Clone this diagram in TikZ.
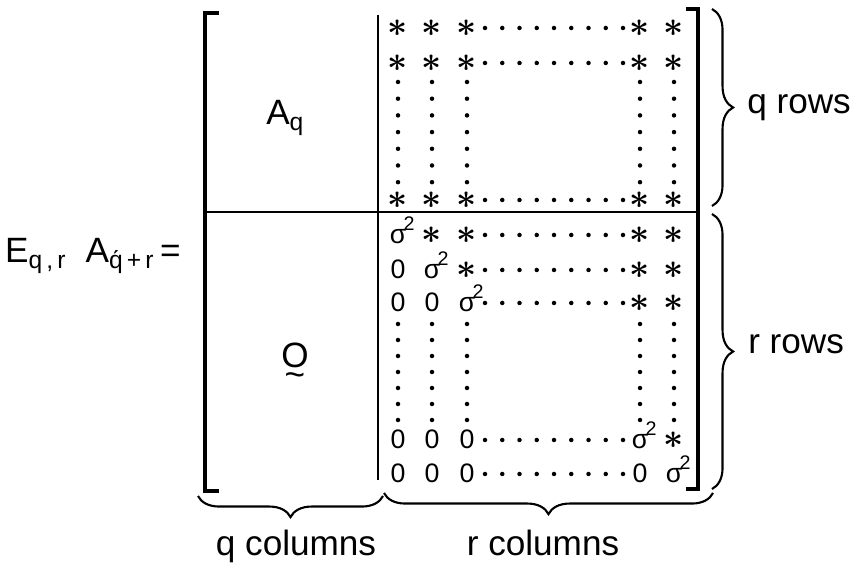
\documentclass[tikz,border=0pt]{standalone}
\usepackage{fontspec}
\setmainfont{Liberation Sans}
\usetikzlibrary{decorations.pathreplacing}

\newcommand{\st}{{\fontsize{28}{28}\selectfont\boldmath$\ast$}}
\newcommand{\sig}{σ\rlap{\kern-0.1em\raisebox{0.5em}{\fontsize{14}{14}\selectfont 2}}}

\begin{document}
\begin{tikzpicture}[x=0.025cm,y=-0.025cm]
    \tikzset{
        bigtext/.style={font=\fontsize{25}{30}\selectfont, inner sep=0},
        entry/.style={font=\fontsize{19}{22}\selectfont, inner sep=0, anchor=base},
        bracket/.style={line width=2.8pt, line join=miter},
        rule/.style={line width=1.7pt},
        curly/.style={decorate, decoration={brace, amplitude=15pt}, line width=1.5pt}
    }
    \useasboundingbox (0,0) rectangle (862,569);

    % corners of the matrix
    \coordinate (lt) at (205,13);
    \coordinate (lb) at (205,491);
    \coordinate (rt) at (698,9);
    \coordinate (rb) at (698,489);
    \coordinate (mt) at (378,15);
    \coordinate (mb) at (378,480);
    \coordinate (hl) at (205,212);
    \coordinate (hr) at (698,212);

    \draw[bracket] (lt) ++(14,0) -- (lt) -- (lb) -- ++(14,0);
    \draw[bracket] (rt) ++(-12,0) -- (rt) -- (rb) -- ++(-12,0);
    \draw[rule] (mt) -- (mb);
    \draw[rule] (hl) -- (hr);

    % entries
    \foreach \y/\ea/\eb/\ec/\ed/\ee [count=\i] in {
        28/\st/\st/\st/\st/\st,
        63/\st/\st/\st/\st/\st,
        200/\st/\st/\st/\st/\st,
        235/\sig/\st/\st/\st/\st,
        270/0/\sig/\st/\st/\st,
        303/0/0/\sig/\st/\st,
        440/0/0/0/\sig/\st,
        474/0/0/0/0/\sig}{
        \foreach \x/\e [count=\j] in {398/\ea,432/\eb,467/\ec,640/\ed,674/\ee}
            \node[entry] (e\i\j) at (\x,\y+9) {\e};
        \foreach \k in {0,...,8}
            \fill (485+17.25*\k,\y) circle[radius=1.6pt];
    }
    \foreach \x in {398,432,467,640,674}
        \foreach \k in {0,...,6} {
            \fill (\x,82+16.7*\k) circle[radius=1.6pt];
            \fill (\x,324+16*\k) circle[radius=1.6pt];
        }

    % blocks
    \node[bigtext, anchor=base west] (Aq) at (266,125) {A\textsubscript{q}};
    \node[bigtext, anchor=base] (zeroO) at (295,368) {O};
    \node[bigtext] (zeroT) at (295,380) {\textasciitilde};
    \node[bigtext, anchor=base east] (lhs) at (181,263) {E\textsubscript{q\,,\,r}\ \ A\textsubscript{\'{q}\,+\,r}\,=};

    % braces
    \coordinate (qr1) at (712,9);
    \coordinate (qr2) at (712,206);
    \coordinate (rr1) at (712,214);
    \coordinate (rr2) at (712,489);
    \coordinate (qc1) at (383,496);
    \coordinate (qc2) at (198,496);
    \coordinate (rc1) at (713,493);
    \coordinate (rc2) at (384,493);
    \draw[curly] (qr1) -- (qr2);
    \draw[curly] (rr1) -- (rr2);
    \draw[curly] (qc1) -- (qc2);
    \draw[curly] (rc1) -- (rc2);

    \node[bigtext, anchor=base west] (qrows) at (747,114) {q rows};
    \node[bigtext, anchor=base west] (rrows) at (748,354) {r rows};
    \node[bigtext, anchor=base] (qcols) at (296,556) {q columns};
    \node[bigtext, anchor=base] (rcols) at (543,556) {r columns};
\end{tikzpicture}
\end{document}
